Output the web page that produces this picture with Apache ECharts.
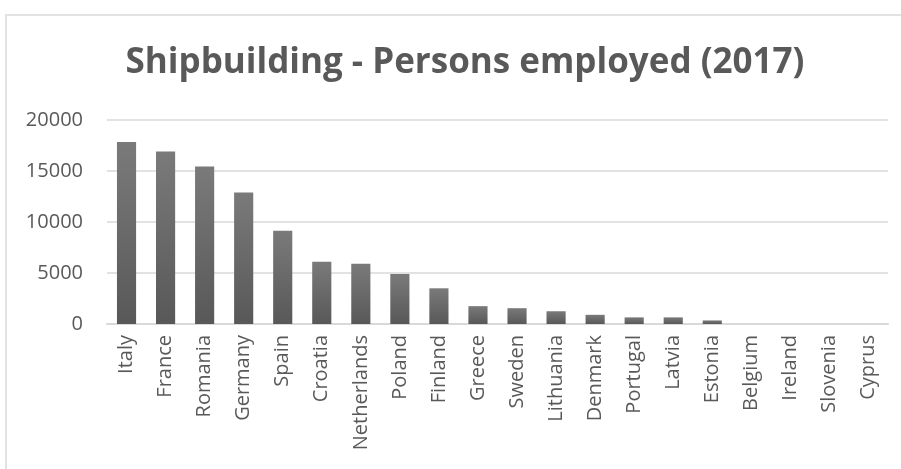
<!DOCTYPE html>
<html>
<head>
<meta charset="utf-8">
<script src="https://cdn.jsdelivr.net/npm/echarts@6/dist/echarts.min.js"></script>
<style>
html,body{margin:0;padding:0;background:#fff;}
#chart{width:901px;height:469px;}
</style>
</head>
<body>
<div id="chart"></div>
<script>
const titleText = 'Shipbuilding - Persons employed (2017)';
const countries = ['Italy','France','Romania','Germany','Spain','Croatia','Netherlands','Poland','Finland','Greece','Sweden','Lithuania','Denmark','Portugal','Latvia','Estonia','Belgium','Ireland','Slovenia','Cyprus'];
const employed = [17850,16900,15450,12900,9150,6100,5900,4900,3500,1750,1550,1250,900,650,650,350,0,0,0,0];
const yMin = 0, yMax = 20000, yStep = 5000;

const chart = echarts.init(document.getElementById('chart'), null, {renderer:'canvas'});
chart.setOption({
  backgroundColor:'#ffffff',
  animation:false,
  graphic:[{
    type:'rect', shape:{x:6,y:15,width:1000,height:600},
    style:{fill:'none', stroke:'#e2e2e2', lineWidth:2}, silent:true
  }],
  title:{
    text:titleText, left:460, top:41, textAlign:'center',
    textStyle:{fontFamily:'Open Sans', fontWeight:'bold', fontSize:35, color:'#595959'}
  },
  grid:{left:107, right:13, top:120, bottom:145, containLabel:false},
  xAxis:{
    type:'category', data:countries,
    axisLine:{lineStyle:{color:'#d9d9d9', width:2}},
    axisTick:{show:false},
    axisLabel:{rotate:90, interval:0, margin:11, fontFamily:'Open Sans', fontSize:20, color:'#595959'}
  },
  yAxis:{
    type:'value', min:yMin, max:yMax, interval:yStep,
    axisLine:{show:false}, axisTick:{show:false},
    splitLine:{lineStyle:{color:'#d9d9d9', width:1.5}},
    axisLabel:{margin:24, fontFamily:'Open Sans', fontSize:20, color:'#595959', formatter:v=>String(v)}
  },
  series:[{
    type:'bar', data:employed, barWidth:'49%',
    itemStyle:{color:new echarts.graphic.LinearGradient(0,0,0,1,[{offset:0,color:'#7a7a7a'},{offset:1,color:'#585858'}], false)}
  }]
});
</script>
</body>
</html>
